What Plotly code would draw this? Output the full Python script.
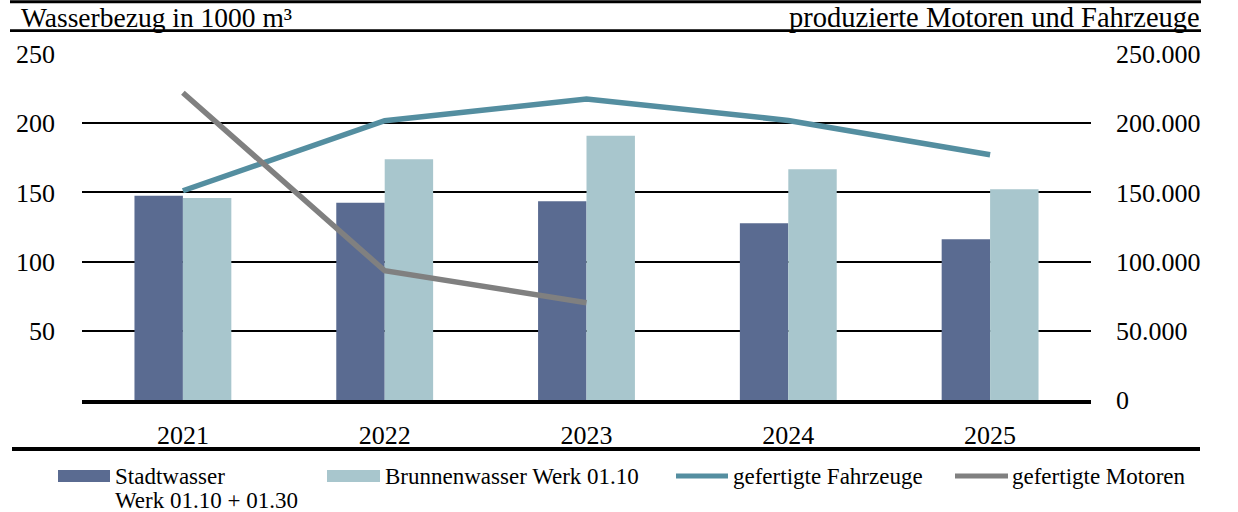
import plotly.graph_objects as go

years = ["2021", "2022", "2023", "2024", "2025"]
stadtwasser = [147.6, 142.6, 143.6, 127.7, 116.1]
brunnenwasser = [145.9, 173.9, 191.0, 166.7, 152.2]
fahrzeuge = [151200, 201800, 217500, 202000, 177200]
motoren = [222000, 93400, 70300, None, None]

names = ["Stadtwasser", "Brunnenwasser Werk 01.10", "gefertigte Fahrzeuge", "gefertigte Motoren"]
left_title = "Wasserbezug in 1000 m³"
right_title = "produzierte Motoren und Fahrzeuge"

C_STADT = "#5A6B91"
C_BRUNNEN = "#A8C6CD"
C_FAHR = "#548EA0"
C_MOT = "#808080"
FONT = "Liberation Serif"

W, H = 1238, 512
L, R, T, B = 82, 147, 54, 112
PW = W - L - R
PH = H - T - B


def xp(px):
    return (px - L) / PW


def yp(py):
    return (H - B - py) / PH


fig = go.Figure()
fig.add_trace(go.Bar(x=years, y=stadtwasser, name=names[0], marker=dict(color=C_STADT, line=dict(width=0)),
                     yaxis="y"))
fig.add_trace(go.Bar(x=years, y=brunnenwasser, name=names[1], marker=dict(color=C_BRUNNEN, line=dict(width=0)),
                     yaxis="y"))
fig.add_trace(go.Scatter(x=years, y=fahrzeuge, name=names[2], mode="lines",
                         line=dict(color=C_FAHR, width=5.5), yaxis="y2"))
fig.add_trace(go.Scatter(x=years, y=motoren, name=names[3], mode="lines",
                         line=dict(color=C_MOT, width=5.5), yaxis="y2"))

shapes = []
annotations = []

# decorative rules
for (x0, x1, y, w) in [(10, 1201, 1.7, 3), (10, 1201, 30.7, 2.7), (12, 1200, 449, 4)]:
    shapes.append(dict(type="line", xref="paper", yref="paper", x0=xp(x0), x1=xp(x1), y0=yp(y), y1=yp(y),
                       line=dict(color="black", width=w)))

annotations.append(dict(text=left_title, xref="paper", yref="paper", x=xp(19), y=yp(18), xanchor="left",
                        align="left", yanchor="middle", showarrow=False,
                        font=dict(family=FONT, size=27.5, color="black")))
annotations.append(dict(text=right_title, xref="paper", yref="paper", x=xp(1202), y=yp(18), xanchor="right",
                        align="right", yanchor="middle", showarrow=False,
                        font=dict(family=FONT, size=28.5, color="black")))

# manual legend
LEG_Y = 476
lf = dict(family=FONT, size=23, color="black")


def leg_text(txt, px, py):
    annotations.append(dict(text=txt, xref="paper", yref="paper", x=xp(px), y=yp(py), xanchor="left",
                            align="left", yanchor="middle", showarrow=False, font=lf))


shapes.append(dict(type="rect", xref="paper", yref="paper", x0=xp(58), x1=xp(110), y0=yp(470), y1=yp(482),
                   fillcolor=C_STADT, line=dict(width=0)))
leg_text(names[0], 113, LEG_Y)
leg_text("Werk 01.10 + 01.30", 113, LEG_Y + 24)
shapes.append(dict(type="rect", xref="paper", yref="paper", x0=xp(327), x1=xp(380), y0=yp(470), y1=yp(482),
                   fillcolor=C_BRUNNEN, line=dict(width=0)))
leg_text(names[1], 383, LEG_Y)
shapes.append(dict(type="line", xref="paper", yref="paper", x0=xp(676), x1=xp(728), y0=yp(476), y1=yp(476),
                   line=dict(color=C_FAHR, width=5)))
leg_text(names[2], 731, LEG_Y)
shapes.append(dict(type="line", xref="paper", yref="paper", x0=xp(955), x1=xp(1008), y0=yp(476), y1=yp(476),
                   line=dict(color=C_MOT, width=5)))
leg_text(names[3], 1010, LEG_Y)

tick_font = dict(family=FONT, size=26, color="black")

fig.update_layout(
    width=W, height=H,
    margin=dict(l=L, r=R, t=T, b=B, pad=0),
    paper_bgcolor="white", plot_bgcolor="white",
    barmode="group", bargap=0.52, bargroupgap=0,
    showlegend=False,
    separators=",.",
    font=dict(family=FONT, color="black"),
    xaxis=dict(type="category", showgrid=False, showline=True, linecolor="black", linewidth=4,
               ticks="", tickfont=tick_font, ticklabelstandoff=9, zeroline=False),
    yaxis=dict(range=[0, 250], tickvals=[50, 100, 150, 200, 250], showgrid=True, gridcolor="black",
               gridwidth=1.6, zeroline=False, showline=False, ticks="", tickfont=tick_font,
               ticklabelstandoff=26),
    yaxis2=dict(range=[0, 250000], tickvals=[0, 50000, 100000, 150000, 200000, 250000], tickformat=",d",
                overlaying="y", side="right", showgrid=False, zeroline=False, showline=False, ticks="",
                tickfont=tick_font, ticklabelstandoff=24),
    shapes=shapes,
    annotations=annotations,
)

fig.write_html("out.html", config={"displayModeBar": False},
               post_script="document.body.style.margin='0';document.body.style.overflow='hidden';")
